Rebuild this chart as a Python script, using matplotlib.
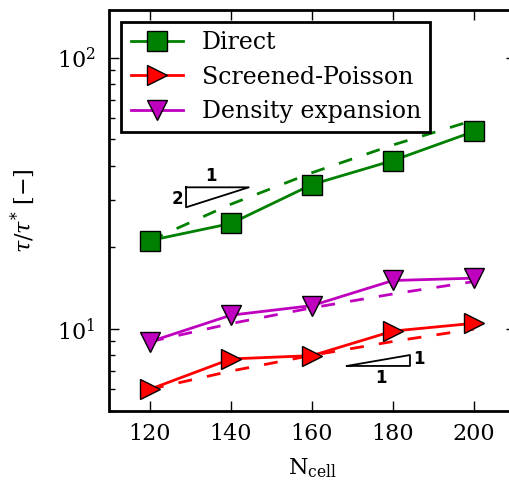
import numpy as np
import matplotlib
matplotlib.use("Agg")
import matplotlib.pyplot as plt

n_cell = [120, 140, 160, 180, 200]
direct = [21.2, 24.5, 34.1, 41.8, 53.5]
screened = [6.0, 7.76, 7.98, 9.83, 10.5]
density = [8.98, 11.25, 12.2, 15.1, 15.4]
labels = ["Direct", "Screened-Poisson", "Density expansion"]

plt.rcParams['font.family'] = 'DejaVu Serif'
plt.rcParams['mathtext.fontset'] = 'dejavuserif'

fig = plt.figure(figsize=(5.1, 4.82), dpi=100)
ax = fig.add_axes([109.5/510, (482-410.7)/482, 407/510, 400.7/482])

x = np.array(n_cell, dtype=float)
ax.plot(x, direct, '-s', color='green', mfc='green', mec='black', ms=14, lw=2, label=labels[0], zorder=3)
ax.plot(x, screened, '->', color='red', mfc='red', mec='black', ms=14, lw=2, label=labels[1], zorder=3)
ax.plot(x, density, '-v', color='m', mfc='m', mec='black', ms=14, lw=2, label=labels[2], zorder=3)

# scaling reference lines
ax.plot(x, direct[0] * (x / x[0])**2, '--', color='green', lw=2, dashes=(5, 5.5), zorder=2)
ax.plot(x, screened[0] * (x / x[0]), '--', color='red', lw=2, dashes=(5, 5.5), zorder=2)
ax.plot(x, density[0] * (x / x[0]), '--', color='m', lw=2, dashes=(5, 5.5), zorder=2)

# slope triangles
tkw = dict(family='DejaVu Sans', fontsize=12, fontweight='bold', ha='center', va='center')
ax.plot([128.9, 144.4, 128.9, 128.9], [33.3, 33.3, 28.1, 33.3], color='black', lw=1.3)
ax.text(135.1, 36.8, '1', **tkw)
ax.text(126.7, 30.1, '2', **tkw)
ax.plot([168.6, 184.2, 184.2, 168.6], [7.31, 7.31, 8.02, 7.31], color='black', lw=1.3)
ax.text(186.4, 7.76, '1', **tkw)
ax.text(177.0, 6.6, '1', **tkw)

ax.set_yscale('log')
ax.set_xlim(110, 210.5)
ax.set_ylim(5, 150)
ax.set_xticks([120, 140, 160, 180, 200])
ax.tick_params(which='both', direction='in', top=True, right=True, labelsize=16, width=1)
ax.tick_params(which='major', length=7.2)
ax.tick_params(which='minor', length=4, right=False)
ax.tick_params(axis='x', which='major', pad=9)
ax.tick_params(axis='y', which='major', pad=10)
for s in ax.spines.values():
    s.set_linewidth(2)
ax.spines['right'].set_visible(False)

ax.set_xlabel(r'$\mathrm{N_{cell}}$', fontsize=16, labelpad=8)
ax.set_ylabel(r'$\tau/\tau^{*}\ [-]$', fontsize=16, labelpad=14)

leg = ax.legend(loc='upper left', numpoints=1, fontsize=17, fancybox=False,
                edgecolor='black', framealpha=1, handlelength=2.2,
                borderaxespad=0.5, labelspacing=0.48)
leg.get_frame().set_linewidth(2)

fig.savefig('out.png', dpi=100)
